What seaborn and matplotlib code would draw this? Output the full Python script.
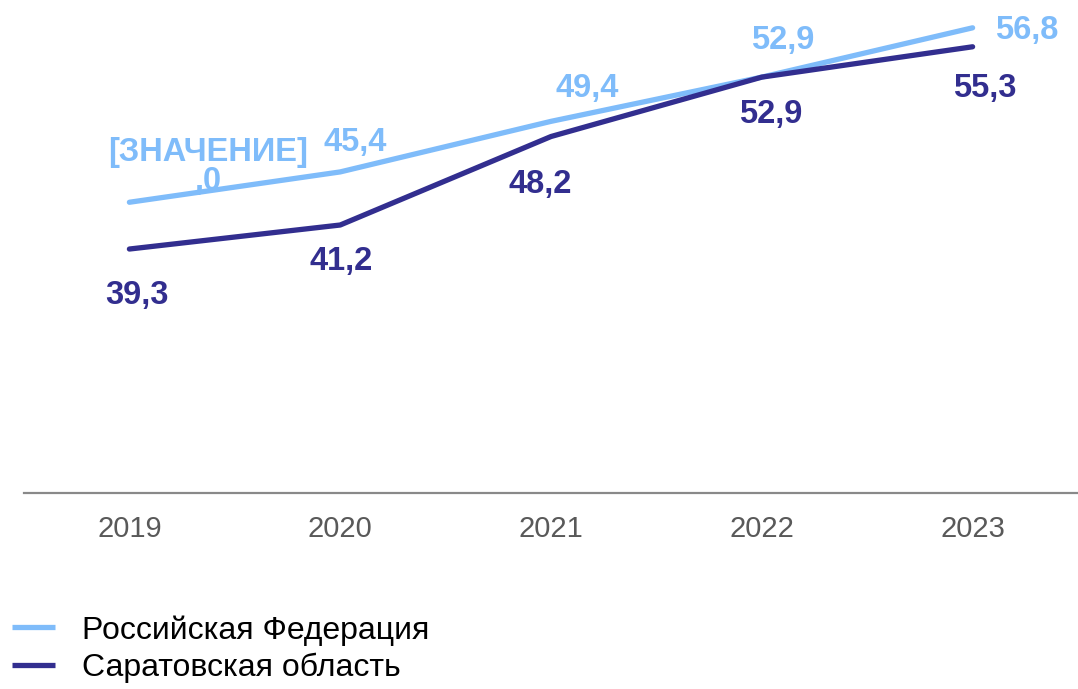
import numpy as np
import pandas as pd
import matplotlib
matplotlib.use("Agg")
import matplotlib.pyplot as plt
import seaborn as sns

# Data
years = ["2019", "2020", "2021", "2022", "2023"]
rf_values = [43.0, 45.4, 49.4, 52.9, 56.8]
sar_values = [39.3, 41.2, 48.2, 52.9, 55.3]
rf_labels = ["[ЗНАЧЕНИЕ]\n,0", "45,4", "49,4", "52,9", "56,8"]
sar_labels = ["39,3", "41,2", "48,2", "52,9", "55,3"]
series_names = ["Российская Федерация", "Саратовская область"]

light = "#7FBCFA"
dark = "#322E8F"

df = pd.DataFrame({
    "year": years * 2,
    "value": rf_values + sar_values,
    "series": [series_names[0]] * 5 + [series_names[1]] * 5,
})
df["x"] = list(range(5)) * 2

sns.set_theme(style="white")
plt.rcParams["font.family"] = ["Liberation Sans", "DejaVu Sans"]

fig = plt.figure(figsize=(10.78, 6.89), dpi=100)
ax = fig.add_axes([24 / 1078, 196 / 689, 1 - 24 / 1078, 1 - 196 / 689])

sns.lineplot(data=df, x="x", y="value", hue="series", palette=[light, dark],
             linewidth=3.8, ax=ax, legend=False, sort=False)
for ln in ax.get_lines():
    ln.set_solid_capstyle("round")
    ln.set_solid_joinstyle("round")
    ln.set_clip_on(False)

ax.set_xlim(-0.5, 4.5)
ax.set_ylim(20, 59)
ax.set_xticks(range(5))
ax.set_xticklabels(years)
ax.set_yticks([])
ax.set_xlabel("")
ax.set_ylabel("")
for s in ["top", "right", "left"]:
    ax.spines[s].set_visible(False)
ax.spines["bottom"].set_color("#898989")
ax.spines["bottom"].set_linewidth(1.6)
ax.tick_params(axis="x", length=0, pad=16, labelsize=21, labelcolor="#595959")

# data labels (offsets in pixels)
rf_off = [(79, 35), (15, 29), (36, 33), (21, 37), (54, -3)]
sar_off = [(7, -46), (1, -36), (-11, -48), (9, -37), (12, -42)]
for i in range(5):
    ax.annotate(rf_labels[i], (i, rf_values[i]), xytext=rf_off[i],
                textcoords="offset pixels", ha="center", va="center",
                fontsize=23.5, fontweight="bold", color=light, linespacing=0.9,
                annotation_clip=False)
    ax.annotate(sar_labels[i], (i, sar_values[i]), xytext=sar_off[i],
                textcoords="offset pixels", ha="center", va="center",
                fontsize=23.5, fontweight="bold", color=dark,
                annotation_clip=False)

handles = [plt.Line2D([], [], color=light, linewidth=3.8, solid_capstyle="butt"),
           plt.Line2D([], [], color=dark, linewidth=3.8, solid_capstyle="butt")]
leg = fig.legend(handles, series_names, loc="upper left",
                 bbox_to_anchor=(12 / 1078, 1 - 615 / 689), frameon=False,
                 fontsize=23, handlelength=1.35, handletextpad=0.85,
                 labelspacing=0.22, borderpad=0, borderaxespad=0)
for t in leg.get_texts():
    t.set_color("black")

fig.savefig("out.png", dpi=100)
